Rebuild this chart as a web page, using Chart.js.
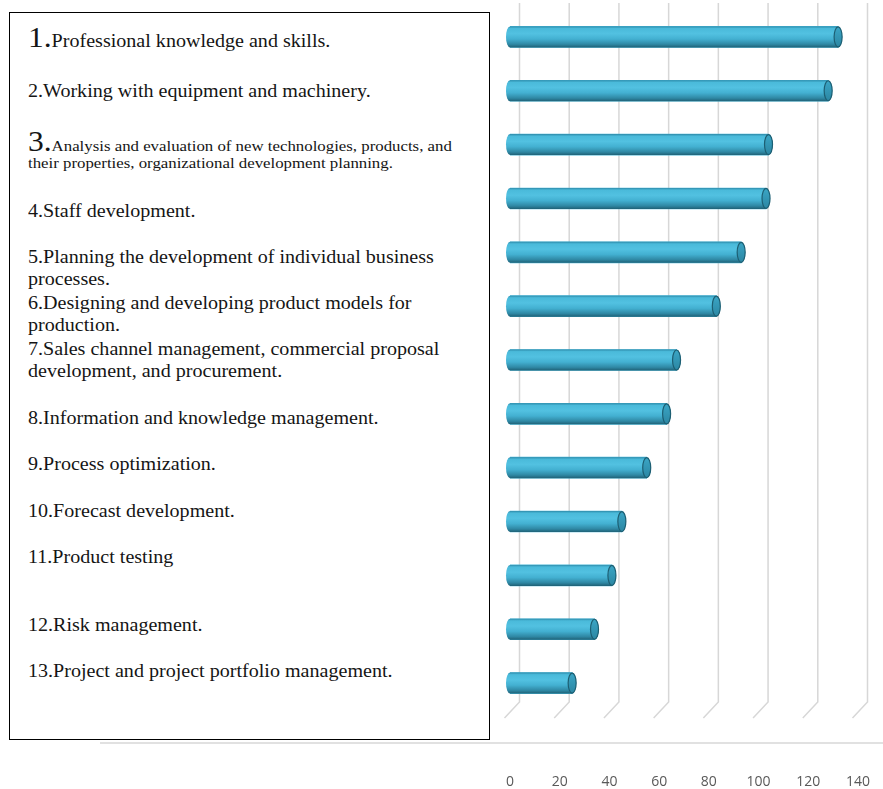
<!DOCTYPE html>
<html>
<head>
<meta charset="utf-8">
<script src="https://cdn.jsdelivr.net/npm/chart.js@4.4.0/dist/chart.umd.min.js"></script>
<style>
  body { margin: 0; background: #fff; }
  #wrap { position: relative; width: 883px; height: 789px; }
  #skillsChart { position: absolute; left: 0; top: 0; }
  #legendBox {
    position: absolute; left: 9px; top: 12px; width: 481px; height: 728px;
    border: 1.5px solid #000; box-sizing: border-box; background: #fff;
    font-family: "Liberation Serif", "Times New Roman", serif; color: #151515;
  }
  .item {
    position: absolute; left: 17.5px; font-size: 18.5px; line-height: 22px; white-space: nowrap;
    transform: scaleX(1.085); transform-origin: left top;
  }
  .item.small { font-size: 15.5px; line-height: 17px; }
  .big { font-size: 29px; }
</style>
</head>
<body>
<div id="wrap">
  <canvas id="skillsChart" width="883" height="789"></canvas>
  <div id="legendBox"></div>
</div>
<script>
// categories (top to bottom), multi-line ones as arrays
var categories = [
  'Professional knowledge and skills.',
  'Working with equipment and machinery.',
  ['Analysis and evaluation of new technologies, products, and', 'their properties, organizational development planning.'],
  'Staff development.',
  ['Planning the development of individual business', 'processes.'],
  ['Designing and developing product models for', 'production.'],
  ['Sales channel management, commercial proposal', 'development, and procurement.'],
  'Information and knowledge management.',
  'Process optimization.',
  'Forecast development.',
  'Product testing',
  'Risk management.',
  'Project and project portfolio management.'
];
var values = [132, 128, 104, 103, 93, 83, 67, 63, 55, 45, 41, 34, 25];
var xMin = 0, xMax = 140, xStep = 20;

// text box layout
var itemTops = [13, 66.5, 120, 186.5, 232.5, 278.5, 324.5, 393.5, 439.5, 486.5, 532.5, 600.5, 646.5];
var bigNumberItems = [0, 2];
var smallTextItems = [2];

var box = document.getElementById('legendBox');
categories.forEach(function(label, i) {
  var lines = Array.isArray(label) ? label : [label];
  var div = document.createElement('div');
  div.className = 'item' + (smallTextItems.indexOf(i) >= 0 ? ' small' : '');
  div.style.top = itemTops[i] + 'px';
  var num = (i + 1) + '.';
  if (bigNumberItems.indexOf(i) >= 0) num = '<span class="big">' + num + '</span>';
  div.innerHTML = num + lines.join('<br>');
  box.appendChild(div);
});

// back wall gridlines + floor edges, like the excel 3d chart
var wallPlugin = {
  id: 'wall',
  beforeDatasetsDraw: function(chart) {
    var ctx = chart.ctx, area = chart.chartArea, x = chart.scales.x;
    ctx.save();
    ctx.strokeStyle = '#d7d7d7';
    ctx.lineWidth = 1.5;
    x.ticks.forEach(function(t) {
      var px = x.getPixelForValue(t.value) + 9.5;
      ctx.beginPath();
      ctx.moveTo(px, area.top - 7);
      ctx.lineTo(px, area.bottom - 8);
      ctx.lineTo(px - 15, area.bottom + 8);
      ctx.stroke();
    });
    ctx.beginPath();
    ctx.moveTo(100, area.bottom + 33);
    ctx.lineTo(chart.width, area.bottom + 33);
    ctx.stroke();
    ctx.restore();
  }
};

// repaint each bar as a shaded cylinder
var cylinderPlugin = {
  id: 'cylinder',
  afterDatasetsDraw: function(chart) {
    var ctx = chart.ctx;
    chart.getDatasetMeta(0).data.forEach(function(bar) {
      var p = bar.getProps(['x', 'y', 'base', 'height'], true);
      var r = p.height / 2, rx = 4, top = p.y - r, bot = p.y + r;
      var g = ctx.createLinearGradient(0, top, 0, bot);
      g.addColorStop(0, '#2e8cab');
      g.addColorStop(0.1, '#4abada');
      g.addColorStop(0.35, '#52c1e1');
      g.addColorStop(0.6, '#43b0d1');
      g.addColorStop(0.85, '#2f88a4');
      g.addColorStop(1, '#1f6176');
      ctx.save();
      ctx.beginPath();
      ctx.moveTo(p.base, top);
      ctx.lineTo(p.x, top);
      ctx.ellipse(p.x, p.y, rx, r, 0, -Math.PI / 2, Math.PI / 2, false);
      ctx.lineTo(p.base, bot);
      ctx.ellipse(p.base, p.y, rx, r, 0, Math.PI / 2, Math.PI * 1.5, false);
      ctx.closePath();
      ctx.fillStyle = g;
      ctx.fill();
      var cg = ctx.createLinearGradient(0, top, 0, bot);
      cg.addColorStop(0, '#3ba6c6');
      cg.addColorStop(1, '#2b86a2');
      ctx.beginPath();
      ctx.ellipse(p.x, p.y, rx, r - 0.5, 0, 0, Math.PI * 2);
      ctx.fillStyle = cg;
      ctx.fill();
      ctx.strokeStyle = '#1d5f73';
      ctx.lineWidth = 1.2;
      ctx.stroke();
      ctx.restore();
    });
  }
};

document.addEventListener('DOMContentLoaded', function() {
  var ctx = document.getElementById('skillsChart').getContext('2d');
  new Chart(ctx, {
    type: 'bar',
    data: {
      labels: categories,
      datasets: [{
        data: values,
        backgroundColor: '#46b5d6',
        borderWidth: 0,
        barThickness: 21
      }]
    },
    options: {
      indexAxis: 'y',
      responsive: false,
      animation: false,
      layout: { padding: { left: 510, right: 25, top: 10, bottom: 0 } },
      plugins: {
        legend: { display: false },
        tooltip: { enabled: false }
      },
      scales: {
        x: {
          min: xMin,
          max: xMax,
          ticks: {
            stepSize: xStep,
            padding: 4,
            color: '#595959',
            font: { family: 'Open Sans', size: 14 }
          },
          // long invisible tick marks push the labels down below the floor line
          grid: { display: false, drawTicks: true, tickLength: 60 },
          border: { display: false },
          afterFit: function(scale) { scale.height = 79; }
        },
        y: { display: false }
      }
    },
    plugins: [wallPlugin, cylinderPlugin]
  });
});
</script>
</body>
</html>
